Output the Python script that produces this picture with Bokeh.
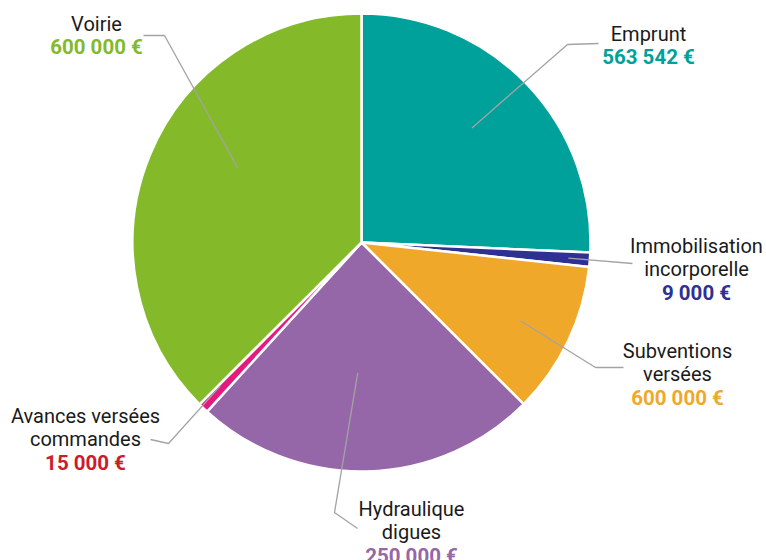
import math
from bokeh.plotting import figure
from bokeh.models import ColumnDataSource, Range1d
from bokeh.core.properties import value
from bokeh.embed import file_html
from bokeh.resources import INLINE

# ---------------- data ----------------
categories = ["Emprunt", "Immobilisation incorporelle", "Subventions versées",
              "Hydraulique digues", "Avances versées commandes", "Voirie"]
name_lines = [["Emprunt"], ["Immobilisation", "incorporelle"], ["Subventions", "versées"],
              ["Hydraulique", "digues"], ["Avances versées", "commandes"], ["Voirie"]]
# slice sizes as drawn in the picture (EUR)
slice_values = [563542, 22000, 236000, 533000, 16000, 822000]
# amounts printed in the labels (EUR)
label_amounts = [563542, 9000, 600000, 250000, 15000, 600000]

# ---------------- styles / layout ----------------
slice_colors = ["#00A19A", "#2E3192", "#F0A82B", "#9566A8", "#E6197E", "#84BA29"]
amount_colors = ["#00A19A", "#2E3192", "#F0A82B", "#9566A8", "#CE1B2C", "#84BA29"]
W, H = 766, 560  # canvas size; data units equal pixels, y measured from the top
CX, CY, R = 361, H - 242, 229
# leader: (radius fraction, angle delta deg), elbow (screen), end (screen)
lead_start = [(0.695, 2.3), (0.906, 0.0), (0.773, -0.7), (0.57, -3.0), (0.88, -0.8), (0.63, -8.5)]
lead_elbow = [(567, 44), (632, 263), (595, 367), (334, 512), (168, 443), (164, 35)]
lead_end = [(598, 43), (632, 263), (623, 367), (357, 528), (150, 439), (143, 35)]
label_x = [648, 696, 677, 411, 85, 96]
label_top = [33, 245, 350, 508, 415, 23]
LINE_H = 23.5


def fmt(v):
    s = f"{v:,}".replace(",", "\u00a0")
    return s + "\u00a0€"


p = figure(width=W, height=H, x_range=Range1d(0, W), y_range=Range1d(0, H),
           output_backend="svg", toolbar_location=None, min_border=0)
p.axis.visible = False
p.grid.visible = False
p.outline_line_color = None
p.background_fill_color = "white"
p.border_fill_color = "white"

total = sum(slice_values)
starts, ends, mids = [], [], []
acc = 0.0
for v in slice_values:
    a0 = 90 - 360 * acc / total
    acc += v
    a1 = 90 - 360 * acc / total
    starts.append(math.radians(a0))
    ends.append(math.radians(a1))
    mids.append((a0 + a1) / 2)

src = ColumnDataSource(dict(x=[CX] * len(categories), y=[CY] * len(categories),
                            start=starts, end=ends, color=slice_colors, cat=categories))
p.wedge(x="x", y="y", radius=R, start_angle="start", end_angle="end", direction="clock",
        fill_color="color", line_color="white", line_width=2.5, source=src)

xs, ys = [], []
for i in range(len(categories)):
    fr, da = lead_start[i]
    ang = math.radians(mids[i] + da)
    sx = CX + fr * R * math.cos(ang)
    sy = CY + fr * R * math.sin(ang)
    ex, ey = lead_elbow[i]
    tx, ty = lead_end[i]
    xs.append([sx, ex, tx])
    ys.append([sy, H - ey, H - ty])
p.multi_line(xs=xs, ys=ys, line_color="#A3A3A3", line_width=1.3)

nx, ny, nt = [], [], []
vx, vy, vt, vc = [], [], [], []
for i in range(len(categories)):
    for j, ln in enumerate(name_lines[i]):
        nx.append(label_x[i])
        ny.append(H - (label_top[i] + j * LINE_H))
        nt.append(ln)
    vx.append(label_x[i])
    vy.append(H - (label_top[i] + len(name_lines[i]) * LINE_H))
    vt.append(fmt(label_amounts[i]))
    vc.append(amount_colors[i])

p.text(x="x", y="y", text="t", source=ColumnDataSource(dict(x=nx, y=ny, t=nt)),
       text_align="center", text_baseline="middle", text_font=value("Roboto"),
       text_font_size="20px", text_color="#1A1A1A")
p.text(x="x", y="y", text="t", text_color="c",
       source=ColumnDataSource(dict(x=vx, y=vy, t=vt, c=vc)),
       text_align="center", text_baseline="middle", text_font=value("Roboto"),
       text_font_size="20.5px", text_font_style="bold")

open("out.html", "w").write(file_html(p, INLINE))
